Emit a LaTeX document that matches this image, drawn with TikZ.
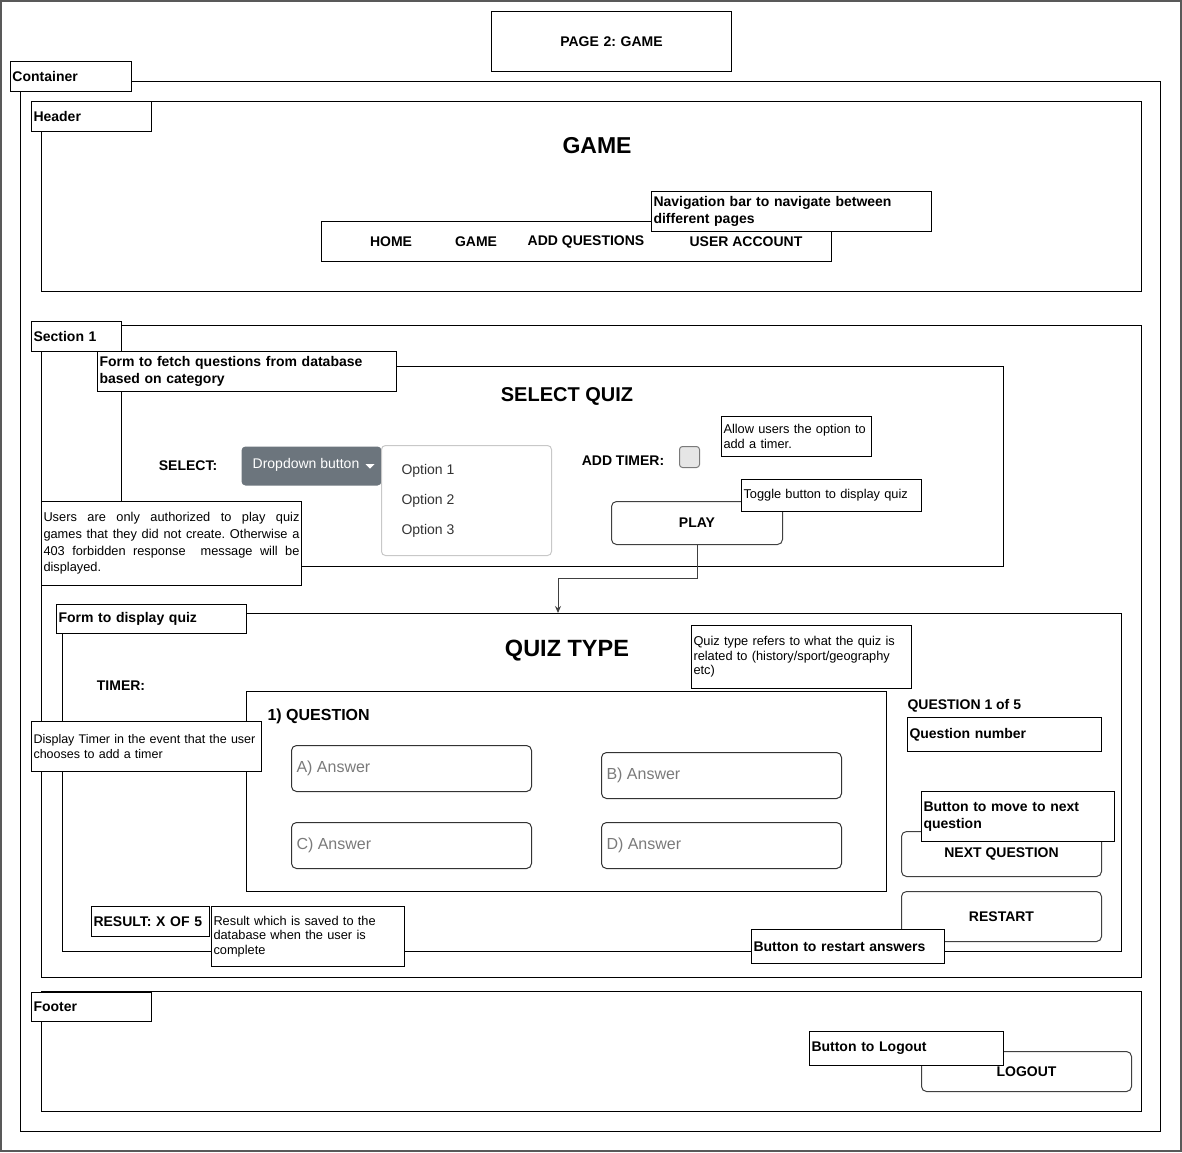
\documentclass[tikz,border=0pt]{standalone}
\usepackage{fontspec}
\setmainfont{Liberation Sans}
\frenchspacing
\usetikzlibrary{positioning,arrows.meta,calc}
\definecolor{tinta}{HTML}{000000}
\definecolor{marco}{HTML}{595959}
\definecolor{grisboton}{HTML}{6C757D}
\definecolor{grisborde}{HTML}{C8C8C8}
\definecolor{grisresp}{HTML}{7A7A7A}
\definecolor{grisopcion}{HTML}{333333}
\definecolor{grischeck}{HTML}{E6E6E6}
\definecolor{flecha}{HTML}{404040}

\begin{document}
\begin{tikzpicture}[x=1pt, y=-1pt, line width=1pt,
    zona/.style n args={2}{draw=tinta, anchor=north west, inner sep=0pt, minimum width=#1pt, minimum height=#2pt},
    caja/.style n args={2}{draw=tinta, fill=white, anchor=north west, inner xsep=2pt, inner ysep=0pt, align=left,
      minimum width=#1pt, minimum height=#2pt, text width=#1pt-4pt},
    boton/.style n args={2}{draw=flecha, fill=white, rounded corners=5pt, anchor=north west, inner sep=0pt,
      minimum width=#1pt, minimum height=#2pt},
    negrita/.style={font=\fontsize{14}{17}\selectfont\bfseries},
    nota/.style={font=\fontsize{12.8}{14.5}\selectfont},
    titulo/.style={font=\fontsize{23}{26}\selectfont\bfseries}]
  \useasboundingbox (0,0) rectangle (1182,1152);
  \draw[marco, line width=2pt] (1,1) rectangle (1181,1151);

  \node[caja={240}{60}, align=center, negrita] (pagina) at (491,11) {PAGE 2: GAME};

  % contenedor
  \node[zona={1140}{1050}] (contenedor) at (20,81) {};
  \node[caja={121}{30}, negrita] (lblcontenedor) at (10,61) {Container};

  % cabecera
  \node[zona={1100}{190}] (cabecera) at (41,101) {};
  \node[caja={120}{30}, negrita] (lblcabecera) at (31,101) {Header};
  \node[titulo] (tjuego) at (597,146) {GAME};
  \node[zona={510}{40}] (navbar) at (321,221) {};
  \foreach \n/\x/\t in {inicio/391/HOME, juego/476/GAME, agregar/586/ADD QUESTIONS, cuenta/746/USER ACCOUNT}
    \node[negrita] (nav\n) at (\x,242) {\t};
  \node[caja={280}{40}, negrita] (notanav) at (651,191) {Navigation bar to navigate between\\different pages};

  % seccion 1
  \node[zona={1100}{652}] (seccion) at (41,325) {};
  \node[caja={90}{30}, negrita] (lblseccion) at (31,321) {Section 1};
  \node[zona={882}{200}] (formsel) at (121,366) {};
  \node[caja={299}{40}, negrita] (lblformsel) at (97,351) {Form to fetch questions from database\\based on category};
  \node[font=\fontsize{20}{24}\selectfont\bfseries] (tselect) at (567,396) {SELECT QUIZ};
  \node[negrita] (tsel) at (188,466) {SELECT:};
  \node[fill=grisboton, rounded corners=4pt, anchor=north west, minimum width=140pt, minimum height=39pt,
    inner sep=0pt] (desplegable) at (241,446) {};
  \node[text=white, font=\fontsize{14}{17}\selectfont, inner sep=0pt] (tdesplegable) at (306,465) {Dropdown button};
  \fill[white] ($(desplegable.east)+(-16.5,-2)$) -- ++(9,0) -- ++(-4.5,4.5) -- cycle;
  \node[draw=grisborde, rounded corners=4pt, anchor=north west, minimum width=170pt, minimum height=110pt,
    inner sep=0pt] (opciones) at (381,445) {};
  \foreach \i/\y in {1/471, 2/501, 3/531}
    \node[anchor=west, inner sep=0pt, text=grisopcion, font=\fontsize{14}{17}\selectfont] (opcion\i) at (401,\y) {Option \i};
  \node[negrita] (ttimer) at (623,461) {ADD TIMER:};
  \node[draw=grisresp, fill=grischeck, rounded corners=3pt, anchor=north west, minimum width=20pt,
    minimum height=21pt, inner sep=0pt] (casilla) at (679,446) {};
  \node[caja={150}{40}, nota] (notatimer) at (721,416) {Allow users the option to\\add a timer.};
  \node[boton={171}{43}, negrita] (jugar) at (611,501) {PLAY};
  \node[caja={180}{32}, nota] (notajugar) at (741,479) {Toggle button to display quiz};
  \node[caja={260}{84}, align=justify, font=\fontsize{12.8}{16.7}\selectfont] (notausuarios) at (41,501)
    {Users are only authorized to play quiz\linebreak games that they did not create. Otherwise a\linebreak
     403 forbidden response\ \ message will be\linebreak displayed.};

  % formulario del quiz
  \node[zona={1059}{338}] (formquiz) at (62,613) {};
  \node[caja={190}{29}, negrita] (lblformquiz) at (56,604) {Form to display quiz};
  \coordinate (codo) at (558,578);
  \draw[flecha, -{Stealth[length=7pt,width=6pt]}] (jugar.south) |- (codo) -- (codo |- formquiz.north);
  \node[font=\fontsize{23.5}{27}\selectfont\bfseries] (ttipo) at (567,651) {QUIZ TYPE};
  \node[caja={220}{63}, nota] (notatipo) at (691,625)
    {Quiz type refers to what the quiz is\\related to (history/sport/geography\\etc)};
  \node[negrita] (tcrono) at (121,686) {TIMER:};
  \node[zona={640}{200}] (pregunta) at (246,691) {};
  \node[anchor=west, inner sep=0pt, font=\fontsize{16}{19}\selectfont\bfseries] (tpregunta) at (267,716) {1) QUESTION};
  \node[caja={230}{50}, font=\fontsize{12.5}{14.5}\selectfont] (notacrono) at (31,721)
    {Display Timer in the event that the user\\chooses to add a timer};
  \foreach \n/\x/\y/\t in {a/291/745/A, b/601/752/B, c/291/822/C, d/601/822/D} {
    \node[draw=grisopcion, rounded corners=5pt, anchor=north west, minimum width=240pt, minimum height=46pt,
      inner sep=0pt] (resp\n) at (\x,\y) {};
    \node[anchor=west, inner sep=0pt, text=grisresp, font=\fontsize{16}{19}\selectfont] (tresp\n) at ([xshift=5pt]resp\n.west) {\t) Answer};
  }
  \node[anchor=west, inner sep=0pt, negrita] (tnumero) at (907,706) {QUESTION 1 of 5};
  \node[caja={194}{34}, negrita] (notanumero) at (907,717) {Question number};
  \node[boton={200}{45}, negrita] (siguiente) at (901,831) {NEXT QUESTION};
  \node[caja={193}{50}, negrita] (notasiguiente) at (921,791) {Button to move to next\\question};
  \node[boton={200}{50}, negrita] (reiniciar) at (901,891) {RESTART};
  \node[caja={193}{34}, negrita] (notareiniciar) at (751,929) {Button to restart answers};
  \node[caja={118}{30}, negrita] (resultado) at (91,906) {RESULT: X OF 5};
  \node[caja={193}{60}, nota] (notaresultado) at (211,906) {Result which is saved to the\\database when the user is\\complete};

  % pie
  \node[zona={1100}{120}] (pie) at (41,991) {};
  \node[caja={120}{29}, negrita] (lblpie) at (31,992) {Footer};
  \node[boton={210}{40}, negrita] (salir) at (921,1051) {LOGOUT};
  \node[caja={194}{34}, negrita] (notasalir) at (809,1031) {Button to Logout};
\end{tikzpicture}
\end{document}
